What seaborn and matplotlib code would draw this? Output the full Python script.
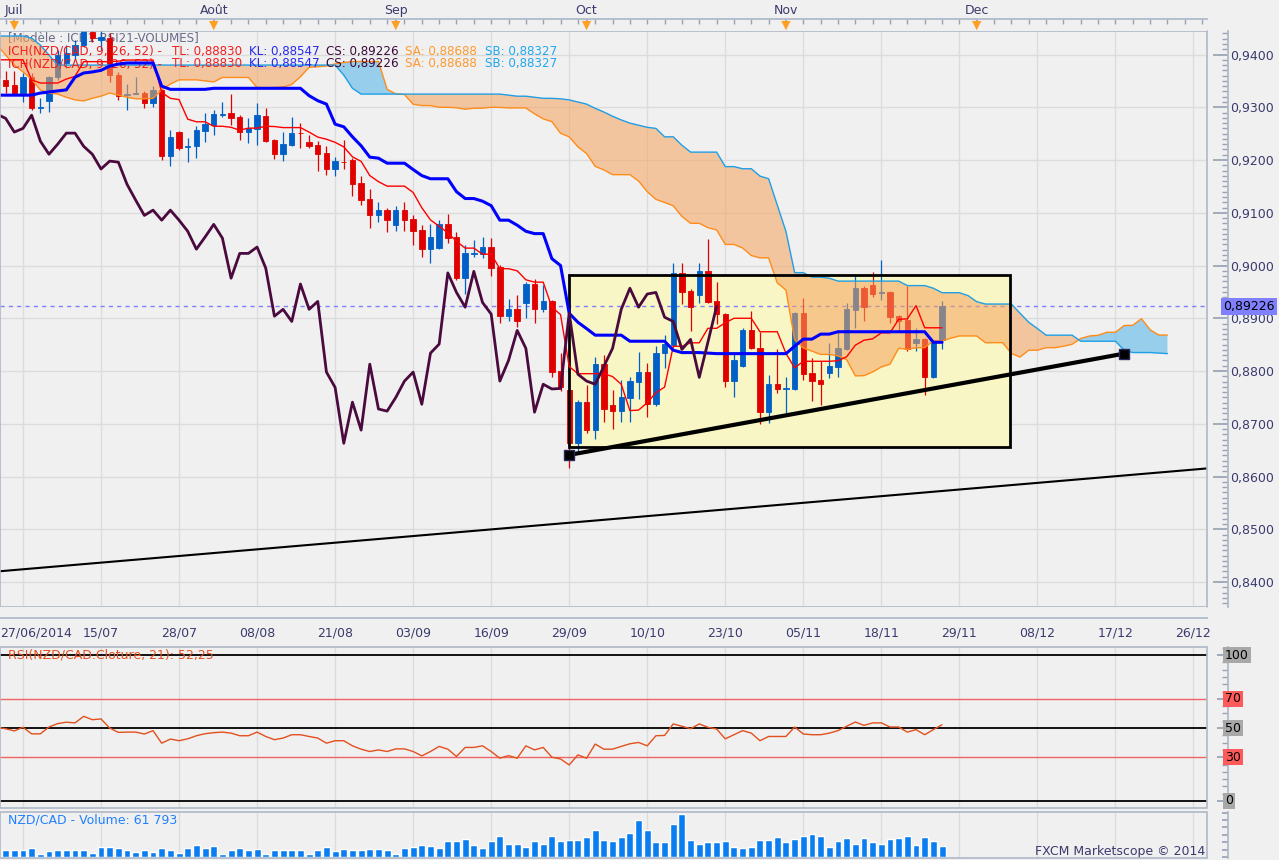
import numpy as np
import pandas as pd
import matplotlib
matplotlib.use("Agg")
import matplotlib.pyplot as plt
import seaborn as sns
from matplotlib.patches import Rectangle
from matplotlib.ticker import FixedLocator, MultipleLocator, FuncFormatter, NullFormatter

sns.set_theme(style="white")
plt.rcParams['font.family'] = ['DejaVu Sans']

# ---------------- data ----------------
idx = np.arange(-3, 107)          # candle index (trading days)

open_ = [0.9384, 0.9352, 0.9342, 0.9327, 0.9357, 0.9299, 0.9312, 0.9357, 0.9384, 0.9399,
         0.9418, 0.9442, 0.9428, 0.9431, 0.9361, 0.9324, 0.9326, 0.9327, 0.9308, 0.9333,
         0.9207, 0.9253, 0.9225, 0.9226, 0.9255, 0.9266, 0.9286, 0.9289, 0.9281, 0.9253,
         0.9258, 0.9283, 0.9238, 0.9211, 0.9228, 0.9252, 0.9234, 0.9228, 0.9213, 0.9183,
         0.9197, 0.9200, 0.9156, 0.9126, 0.9095, 0.9105, 0.9076, 0.9105, 0.9088, 0.9067,
         0.9031, 0.9033, 0.9078, 0.9054, 0.8976, 0.9022, 0.9021, 0.9035, 0.8997, 0.8904,
         0.8917, 0.8929, 0.8965, 0.8917, 0.8932, 0.8800, 0.8764, 0.8663, 0.8741, 0.8688,
         0.8813, 0.8735, 0.8724, 0.8748, 0.8779, 0.8798, 0.8737, 0.8834, 0.8849, 0.8986,
         0.8951, 0.8944, 0.8989, 0.8932, 0.8908, 0.8781, 0.8809, 0.8877, 0.8843, 0.8722,
         0.8775, 0.8766, 0.8766, 0.8910, 0.8796, 0.8783, 0.8796, 0.8807, 0.8841, 0.8915,
         0.8957, 0.8963, 0.8948, 0.8949, 0.8904, 0.8896, 0.8853, 0.8860, 0.8788, 0.8858]
high_ = [0.9393, 0.9369, 0.9369, 0.9365, 0.9365, 0.9317, 0.9359, 0.9408, 0.9418, 0.9428,
         0.9484, 0.9456, 0.9446, 0.9441, 0.9367, 0.9344, 0.9357, 0.9331, 0.9340, 0.9336,
         0.9257, 0.9255, 0.9241, 0.9264, 0.9289, 0.9295, 0.9310, 0.9325, 0.9285, 0.9279,
         0.9308, 0.9298, 0.9240, 0.9253, 0.9281, 0.9270, 0.9247, 0.9236, 0.9226, 0.9205,
         0.9238, 0.9203, 0.9169, 0.9145, 0.9120, 0.9109, 0.9112, 0.9120, 0.9095, 0.9076,
         0.9078, 0.9086, 0.9097, 0.9063, 0.9039, 0.9048, 0.9054, 0.9052, 0.9001, 0.8936,
         0.8944, 0.8968, 0.8974, 0.8963, 0.8934, 0.8834, 0.8767, 0.8745, 0.8773, 0.8826,
         0.8830, 0.8764, 0.8783, 0.8788, 0.8836, 0.8815, 0.8847, 0.8868, 0.9004, 0.9004,
         0.8955, 0.9004, 0.9050, 0.8968, 0.8910, 0.8834, 0.8881, 0.8913, 0.8874, 0.8792,
         0.8841, 0.8788, 0.8911, 0.8938, 0.8824, 0.8819, 0.8853, 0.8877, 0.8929, 0.8982,
         0.8961, 0.8987, 0.9010, 0.8951, 0.8906, 0.8961, 0.8881, 0.8862, 0.8857, 0.8932]
low_ = [0.9352, 0.9327, 0.9323, 0.9310, 0.9295, 0.9289, 0.9291, 0.9352, 0.9374, 0.9390,
        0.9414, 0.9424, 0.9408, 0.9348, 0.9314, 0.9295, 0.9325, 0.9298, 0.9300, 0.9200,
        0.9188, 0.9219, 0.9196, 0.9203, 0.9234, 0.9247, 0.9281, 0.9266, 0.9238, 0.9232,
        0.9228, 0.9234, 0.9202, 0.9198, 0.9226, 0.9222, 0.9222, 0.9179, 0.9171, 0.9169,
        0.9183, 0.9131, 0.9114, 0.9071, 0.9082, 0.9063, 0.9065, 0.9065, 0.9039, 0.9016,
        0.9004, 0.9031, 0.9042, 0.8972, 0.8946, 0.9016, 0.9014, 0.8980, 0.8891, 0.8894,
        0.8883, 0.8900, 0.8891, 0.8911, 0.8788, 0.8762, 0.8616, 0.8644, 0.8682, 0.8671,
        0.8703, 0.8690, 0.8703, 0.8703, 0.8747, 0.8712, 0.8733, 0.8805, 0.8845, 0.8927,
        0.8875, 0.8929, 0.8929, 0.8889, 0.8769, 0.8750, 0.8807, 0.8841, 0.8699, 0.8701,
        0.8758, 0.8716, 0.8764, 0.8783, 0.8743, 0.8735, 0.8786, 0.8788, 0.8839, 0.8881,
        0.8894, 0.8940, 0.8934, 0.8891, 0.8875, 0.8838, 0.8838, 0.8754, 0.8786, 0.8841]
close_ = [0.9355, 0.9340, 0.9327, 0.9357, 0.9298, 0.9301, 0.9357, 0.9399, 0.9403, 0.9418,
          0.9446, 0.9431, 0.9433, 0.9361, 0.9321, 0.9325, 0.9327, 0.9308, 0.9333, 0.9207,
          0.9244, 0.9222, 0.9226, 0.9257, 0.9268, 0.9287, 0.9287, 0.9279, 0.9253, 0.9260,
          0.9285, 0.9236, 0.9211, 0.9230, 0.9251, 0.9251, 0.9226, 0.9211, 0.9183, 0.9198,
          0.9196, 0.9154, 0.9124, 0.9095, 0.9105, 0.9086, 0.9105, 0.9086, 0.9065, 0.9031,
          0.9054, 0.9078, 0.9052, 0.8976, 0.9023, 0.9023, 0.9035, 0.8995, 0.8904, 0.8917,
          0.8894, 0.8965, 0.8917, 0.8932, 0.8798, 0.8769, 0.8663, 0.8741, 0.8688, 0.8813,
          0.8728, 0.8724, 0.8750, 0.8781, 0.8798, 0.8737, 0.8834, 0.8851, 0.8986, 0.8949,
          0.8921, 0.8989, 0.8930, 0.8908, 0.8781, 0.8820, 0.8877, 0.8843, 0.8722, 0.8775,
          0.8766, 0.8767, 0.8910, 0.8794, 0.8781, 0.8775, 0.8809, 0.8843, 0.8917, 0.8957,
          0.8921, 0.8946, 0.8949, 0.8902, 0.8894, 0.8841, 0.8860, 0.8788, 0.8855, 0.89226]

# indicator values read where the candle history on screen is too short to compute them
tenkan_read = [0.9390, 0.9390, 0.9390, 0.9390, 0.9352, 0.9346, 0.9346, 0.9346]          # i=-3..4
kijun_read = [0.9323, 0.9323, 0.9323, 0.9323, 0.9323, 0.9327, 0.9329, 0.9331, 0.9333,
              0.9357, 0.9365, 0.9367, 0.9370, 0.9378, 0.9382, 0.9384, 0.9384, 0.9384,
              0.9384, 0.9340, 0.9334, 0.9334, 0.9334, 0.9334, 0.9334]                   # i=-3..21
ssa_read = [0.9418, 0.9399, 0.9380, 0.9367, 0.9353, 0.9333, 0.9327, 0.9325, 0.9319, 0.9314,
            0.9312, 0.9317, 0.9321, 0.9327, 0.9323, 0.9319, 0.9316, 0.9316, 0.9317, 0.9333,
            0.9344, 0.9352, 0.9352, 0.9352, 0.9350, 0.9348]                               # i=-3..22
ssb_read = ([0.9435] * 4 + [0.9431, 0.9418, 0.9399] + [0.9380] * 33 + [0.9361, 0.9336]
            + [0.9325] * 17
            + [0.9323, 0.9321, 0.9321, 0.9319, 0.9317, 0.9317, 0.9316, 0.9314, 0.9310,
               0.9306, 0.9298, 0.9291, 0.9283, 0.9276, 0.9270, 0.9266, 0.9262, 0.9260])  # i=-3..73

rsi = [50.3, 49.5, 48.0, 50.5, 46.0, 46.0, 50.7, 53.0, 54.0, 53.5,
       58.0, 55.7, 56.2, 50.0, 47.0, 47.2, 47.2, 45.9, 48.2, 39.6,
       42.4, 41.3, 42.6, 44.7, 46.1, 46.8, 47.2, 46.5, 44.7, 44.7,
       47.2, 44.2, 42.0, 43.1, 45.4, 45.4, 44.2, 43.1, 39.6, 41.3,
       41.3, 37.8, 35.5, 33.9, 35.0, 33.9, 35.7, 35.7, 33.9, 30.9,
       33.9, 37.4, 35.5, 30.5, 36.7, 36.7, 37.8, 33.9, 29.3, 31.1,
       29.3, 37.8, 35.0, 36.7, 30.0, 28.8, 24.7, 31.6, 29.3, 39.0,
       35.5, 35.5, 37.4, 39.2, 40.1, 37.8, 44.7, 44.9, 52.8, 51.2,
       49.5, 52.8, 50.5, 49.3, 42.6, 45.4, 48.2, 46.5, 41.3, 44.2,
       44.2, 44.2, 50.7, 45.9, 45.4, 45.4, 46.5, 48.2, 51.2, 54.1,
       51.8, 53.5, 53.5, 50.7, 50.7, 47.2, 48.9, 45.4, 48.9, 52.25]

volume_k = [36.3, 36.3, 36.3, 36.3, 50.9, 14.5, 32.7, 36.3, 36.3, 36.3,
            36.3, 21.8, 54.5, 54.5, 50.9, 36.3, 27.3, 40.0, 29.1, 50.9,
            40.0, 21.8, 47.2, 63.6, 47.2, 58.1, 18.2, 40.0, 47.2, 40.0,
            43.6, 18.2, 36.3, 40.0, 40.0, 40.0, 18.2, 40.0, 54.5, 32.7,
            43.6, 36.3, 36.3, 43.6, 43.6, 40.0, 18.2, 50.9, 54.5, 65.4,
            58.1, 50.9, 85.4, 85.4, 99.9, 67.2, 50.9, 85.4, 112.7, 72.7,
            72.7, 54.5, 85.4, 72.7, 112.7, 85.4, 90.9, 90.9, 109.0, 145.4,
            90.9, 85.4, 109.0, 127.2, 198.1, 145.4, 79.9, 83.6, 176.2, 230.8,
            94.5, 72.7, 83.6, 83.6, 89.0, 56.3, 47.2, 56.3, 94.5, 94.5,
            110.8, 83.6, 99.9, 116.3, 121.7, 116.3, 56.3, 89.0, 105.4, 72.7,
            105.4, 83.6, 72.7, 99.9, 105.4, 116.3, 67.2, 110.8, 89.0, 61.8]

price_ticks = [0.84, 0.85, 0.86, 0.87, 0.88, 0.89, 0.90, 0.91, 0.92, 0.93, 0.94]
date_tick_idx = list(range(0, 136, 9))
date_labels = ["27/06/2014", "15/07", "28/07", "08/08", "21/08", "03/09", "16/09", "29/09",
               "10/10", "23/10", "05/11", "18/11", "29/11", "08/12", "17/12", "26/12"]
month_idx = [-1, 22, 43, 65, 88, 110]
month_labels = ["Juil", "Août", "Sep", "Oct", "Nov", "Dec"]

last_price = 0.89226
box_x = [63, 113.8]
box_y = [0.8656, 0.8982]
trend1_x = [63, 127]
trend1_y = [0.8641, 0.8833]
trend2_x = [-3, 137]
trend2_y = [0.8420, 0.8616]

legend_parts = [("ICH(NZD/CAD, 9, 26, 52) -", '#F01E1E', 8),
                ("TL: 0,88830", '#F01E1E', 172),
                ("KL: 0,88547", '#2828F0', 249),
                ("CS: 0,89226", '#3A0A3A', 326),
                ("SA: 0,88688", '#FF9A30', 405),
                ("SB: 0,88327", '#20A8F0', 485)]

# ---------------- indicators ----------------
hi = pd.Series(high_, index=idx)
lo = pd.Series(low_, index=idx)
op = pd.Series(open_, index=idx)
cl = pd.Series(close_, index=idx)

tenkan = (hi.rolling(9).max() + lo.rolling(9).min()) / 2
tenkan.iloc[:len(tenkan_read)] = tenkan_read
kijun = (hi.rolling(26).max() + lo.rolling(26).min()) / 2
kijun.iloc[:len(kijun_read)] = kijun_read
ssa_calc = ((tenkan + kijun) / 2).values                 # plotted at idx+26
ssb_calc = ((hi.rolling(52).max() + lo.rolling(52).min()) / 2).values
cloud_x = np.arange(-3, 133)
ssa = np.concatenate([ssa_read, ssa_calc])
ssb = np.concatenate([ssb_read, ssb_calc[51:]])
chik_x = idx - 26
chik_mask = chik_x >= -3

# ---------------- figure ----------------
BG = '#F0F0F0'
GRID = '#DCDCDC'
BORDER = '#AEB8C8'
TICKC = '#98A2B3'
TXT = '#3A3A6E'
RED = '#E00000'
BLUE = '#0060C8'
W, H = 1279, 860
XL = (-2.65, 136.56)

fig = plt.figure(figsize=(W / 100, H / 100), dpi=100, facecolor=BG)


def frac(x0, y0, x1, y1):
    return [x0 / W, 1 - y1 / H, (x1 - x0) / W, (y1 - y0) / H]


def border(ax):
    ax.add_patch(Rectangle((0, 0), 1, 1, transform=ax.transAxes, fill=False,
                           edgecolor=BORDER, lw=1.2, clip_on=False, zorder=20))


ax = fig.add_axes(frac(0, 31, 1207, 607), facecolor=BG)
ax_top = fig.add_axes(frac(0, 19, 1207, 31), facecolor=BG)
ax_date = fig.add_axes(frac(0, 607, 1207, 618), facecolor=BG)
ax_rsi = fig.add_axes(frac(0, 647, 1207, 808), facecolor=BG)
ax_vol = fig.add_axes(frac(0, 812, 1207, 858), facecolor=BG)

for a in (ax, ax_top, ax_date, ax_rsi, ax_vol):
    a.set_xlim(*XL)
    for s in a.spines.values():
        s.set_visible(False)

# ---- main price panel ----
ax.set_ylim(0.83527, 0.94446)
ax.set_xticks(date_tick_idx)
ax.set_yticks(price_ticks)
ax.grid(True, color=GRID, lw=1, zorder=0)
ax.set_axisbelow(True)
ax.tick_params(axis='x', length=0, labelbottom=False)
ax.yaxis.tick_right()
ax.spines['right'].set_visible(True)
ax.spines['right'].set_position(('outward', 15))
ax.spines['right'].set_color(BORDER)
ax.yaxis.set_minor_locator(MultipleLocator(0.001))
ax.yaxis.set_major_formatter(FuncFormatter(lambda v, p: f"{v:.4f}".replace('.', ',')))
ax.tick_params(axis='y', which='major', direction='in', length=10.5, color=TICKC,
               labelsize=9, labelcolor=TXT, pad=2)
ax.tick_params(axis='y', which='minor', direction='in', length=4, color=TICKC)
border(ax)

# yellow box
ax.add_patch(Rectangle((box_x[0], box_y[0]), box_x[1] - box_x[0], box_y[1] - box_y[0],
                       facecolor='#F8F6C4', edgecolor='none', zorder=1.5))
ax.add_patch(Rectangle((box_x[0], box_y[0]), box_x[1] - box_x[0], box_y[1] - box_y[0],
                       fill=False, edgecolor='black', lw=2, zorder=4.6))

# legend texts
def py(yp):
    return 1 - (yp - 31) / 576

ax.text(8 / 1207, py(38), "[Modèle : ICH1-RSI21-VOLUMES]", transform=ax.transAxes,
        color='#6A6A8A', fontsize=8.6, va='center', zorder=2.5)
for ypx in (51, 64):
    for txt, col, xpx in legend_parts:
        ax.text(xpx / 1207, py(ypx), txt, transform=ax.transAxes, color=col,
                fontsize=8.6, va='center', zorder=4.3)

# candles
up = cl.values >= op.values
cols = np.where(up, BLUE, RED)
ax.vlines(idx, lo.values, hi.values, colors=cols, lw=0.9, zorder=3)
ax.bar(idx, np.abs(cl.values - op.values), bottom=np.minimum(op.values, cl.values),
       width=0.62, color=cols, edgecolor=cols, linewidth=0.6, zorder=3)

# cloud
ax.fill_between(cloud_x, ssa, ssb, where=ssb >= ssa, interpolate=True,
                color='#F7A35C', alpha=0.55, lw=0, zorder=4)
ax.fill_between(cloud_x, ssa, ssb, where=ssa > ssb, interpolate=True,
                color='#5BB8E8', alpha=0.6, lw=0, zorder=4)
sns.lineplot(x=cloud_x, y=ssa, ax=ax, color='#FF8C1A', linewidth=1, zorder=4.2,
             legend=False, sort=False, estimator=None)
sns.lineplot(x=cloud_x, y=ssb, ax=ax, color='#1E9FE6', linewidth=1, zorder=4.2,
             legend=False, sort=False, estimator=None)

# dashed last price
ax.axhline(last_price, color='#7F7FFF', lw=1, ls=(0, (3, 3)), zorder=2)

# ichimoku lines
sns.lineplot(x=idx, y=tenkan.values, ax=ax, color='#FF0000', linewidth=1, zorder=5,
             legend=False, sort=False, estimator=None)
sns.lineplot(x=idx, y=kijun.values, ax=ax, color='#0000FF', linewidth=2.2, zorder=5,
             legend=False, sort=False, estimator=None)
sns.lineplot(x=chik_x[chik_mask], y=cl.values[chik_mask], ax=ax, color='#4A0A3E',
             linewidth=2, zorder=5, legend=False, sort=False, estimator=None)

# trend lines
sns.lineplot(x=trend2_x, y=trend2_y, ax=ax, color='black', linewidth=1.5, zorder=5.5,
             legend=False, sort=False, estimator=None)
sns.lineplot(x=trend1_x, y=trend1_y, ax=ax, color='black', linewidth=3, zorder=6,
             legend=False, sort=False, estimator=None)
ax.scatter(trend1_x, trend1_y, marker='s', s=55, color='black', edgecolors='#2A2A5A',
           linewidths=1, zorder=7)
ax.set_xlim(*XL)
ax.set_ylim(0.83527, 0.94446)
ax.set_xlabel('')
ax.set_ylabel('')

# last price label box
ax.text(1223 / 1207, last_price, "0,89226", transform=ax.get_yaxis_transform(),
        fontsize=9, color='black', va='center', ha='left', clip_on=False, zorder=30,
        bbox=dict(facecolor='#8080FF', edgecolor='none', pad=1.5))

# ---- top month strip ----
ax_top.set_ylim(0, 1)
ax_top.spines['top'].set_visible(True)
ax_top.spines['top'].set_color(BORDER)
ax_top.xaxis.tick_top()
ax_top.set_xticks(month_idx, month_labels)
ax_top.xaxis.set_minor_locator(FixedLocator(np.arange(-2, 137, 2)))
ax_top.tick_params(axis='x', which='both', direction='in', length=3.5, color=TICKC,
                   labelsize=9, labelcolor=TXT, pad=1.5)
ax_top.tick_params(axis='y', left=False, labelleft=False)
ax_top.scatter(month_idx, [0.45] * len(month_idx), marker='v', s=45, color='#FFA024',
               edgecolors='none', zorder=5, clip_on=False)

# ---- date strip ----
ax_date.set_ylim(0, 1)
ax_date.spines['bottom'].set_visible(True)
ax_date.spines['bottom'].set_color(BORDER)
ax_date.set_xticks(date_tick_idx, [''] + date_labels[1:])
ax_date.xaxis.set_minor_locator(FixedLocator(np.arange(-2, 137, 1)))
ax_date.tick_params(axis='x', which='major', direction='in', length=8, color=TICKC,
                    labelsize=9, labelcolor=TXT, pad=6)
ax_date.tick_params(axis='x', which='minor', direction='in', length=3.5, color=TICKC)
ax_date.tick_params(axis='y', left=False, labelleft=False)
ax_date.text(0.0, -0.75, date_labels[0], transform=ax_date.transAxes, fontsize=9,
             color=TXT, ha='left', va='top')

# ---- RSI panel ----
ax_rsi.set_ylim(-4.8, 105.5)
ax_rsi.set_xticks(date_tick_idx)
ax_rsi.tick_params(axis='x', length=0, labelbottom=False)
ax_rsi.grid(True, axis='x', color=GRID, lw=1, zorder=0)
ax_rsi.set_axisbelow(True)
for lvl, c, w in [(100, 'black', 1.3), (50, 'black', 1.3), (0, 'black', 1.3),
                  (70, '#F06464', 1), (30, '#F06464', 1)]:
    ax_rsi.axhline(lvl, color=c, lw=w, zorder=2)
sns.lineplot(x=idx, y=rsi, ax=ax_rsi, color='#E2501E', linewidth=1, zorder=3,
             legend=False, sort=False, estimator=None)
ax_rsi.set_xlim(*XL)
ax_rsi.set_ylim(-4.8, 105.5)
ax_rsi.set_xlabel('')
ax_rsi.set_ylabel('')
ax_rsi.yaxis.tick_right()
ax_rsi.spines['right'].set_visible(True)
ax_rsi.spines['right'].set_position(('outward', 15))
ax_rsi.spines['right'].set_color(BORDER)
ax_rsi.set_yticks([0, 30, 50, 70, 100], [''] * 5)
ax_rsi.yaxis.set_minor_locator(MultipleLocator(5))
ax_rsi.tick_params(axis='y', which='major', direction='in', length=8, color=TICKC)
ax_rsi.tick_params(axis='y', which='minor', direction='in', length=4, color=TICKC)
for lvl, bg in [(100, '#A8A8A8'), (70, '#FF5A5A'), (50, '#A8A8A8'), (30, '#FF5A5A'),
                (0, '#A8A8A8')]:
    ax_rsi.text(1225 / 1207, lvl, str(lvl), transform=ax_rsi.get_yaxis_transform(),
                fontsize=9, color='black', va='center', ha='left', clip_on=False,
                bbox=dict(facecolor=bg, edgecolor='none', pad=1.2), zorder=30)
ax_rsi.text(8 / 1207, 0.95, "RSI(NZD/CAD.Cloture, 21): 52,25", transform=ax_rsi.transAxes,
            fontsize=9, color='#E5501E', va='center', ha='left', zorder=4)
border(ax_rsi)

# ---- volume panel ----
ax_vol.bar(idx, volume_k, width=0.8, color='#0A7EF0', zorder=3)
ax_vol.set_ylim(-5, 243)
ax_vol.set_xticks(date_tick_idx)
ax_vol.tick_params(axis='x', length=0, labelbottom=False)
ax_vol.grid(True, axis='x', color=GRID, lw=1, zorder=0)
ax_vol.set_axisbelow(True)
ax_vol.yaxis.tick_right()
ax_vol.spines['right'].set_visible(True)
ax_vol.spines['right'].set_position(('outward', 15))
ax_vol.spines['right'].set_color(BORDER)
ax_vol.yaxis.set_major_locator(MultipleLocator(40))
ax_vol.yaxis.set_major_formatter(NullFormatter())
ax_vol.tick_params(axis='y', which='major', direction='in', length=4, color=TICKC)
ax_vol.text(8 / 1207, 0.83, "NZD/CAD - Volume: 61 793", transform=ax_vol.transAxes,
            fontsize=9, color='#2080FF', va='center', ha='left', zorder=4)
ax_vol.text(1205 / 1207, 0.15, "FXCM Marketscope © 2014", transform=ax_vol.transAxes,
            fontsize=9, color=TXT, va='center', ha='right', zorder=4)
border(ax_vol)

fig.savefig("out.png", dpi=100, facecolor=BG)
